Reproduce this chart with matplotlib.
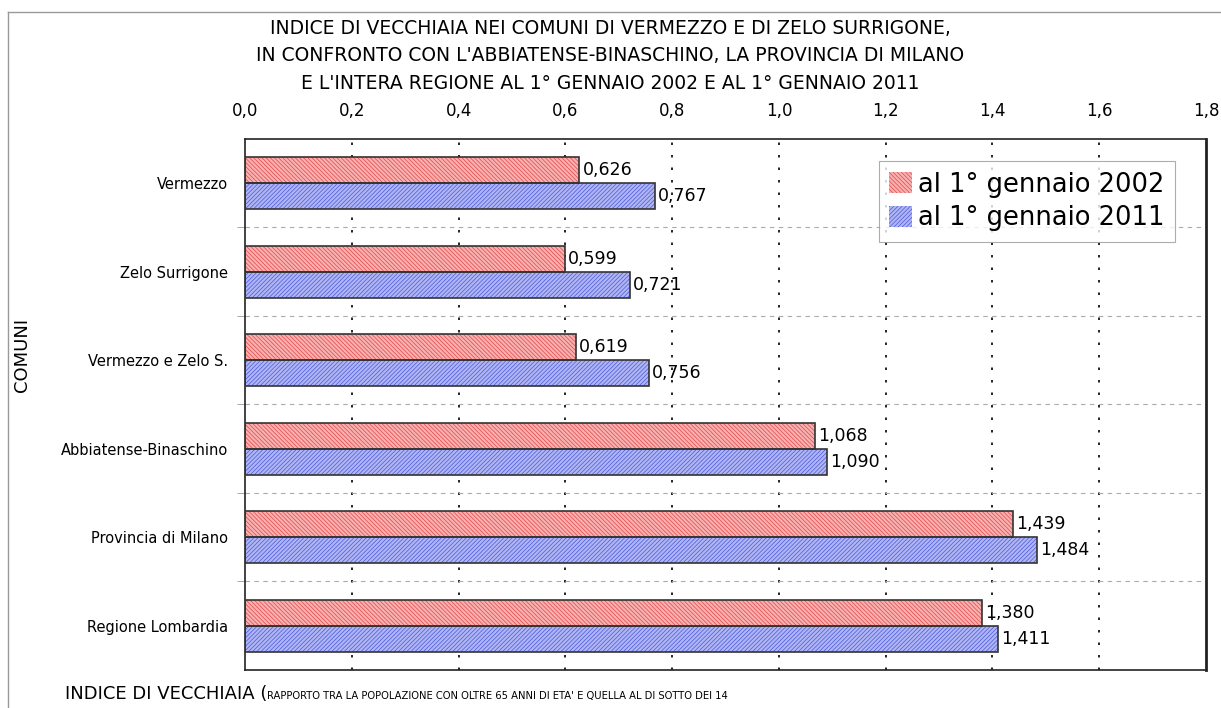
import matplotlib.pyplot as plt
import numpy as np
from matplotlib.lines import Line2D
from matplotlib.patches import Patch

comuni = ["Vermezzo", "Zelo Surrigone", "Vermezzo e Zelo S.",
          "Abbiatense-Binaschino", "Provincia di Milano", "Regione Lombardia"]
val_2002 = [0.626, 0.599, 0.619, 1.068, 1.439, 1.380]
val_2011 = [0.767, 0.721, 0.756, 1.090, 1.484, 1.411]
serie = ["al 1° gennaio 2002", "al 1° gennaio 2011"]
xticks = [0.0, 0.2, 0.4, 0.6, 0.8, 1.0, 1.2, 1.4, 1.6, 1.8]

plt.rcParams["hatch.linewidth"] = 0.5

fig = plt.figure(figsize=(12.21, 7.08), dpi=100)
ax = fig.add_axes([0.2007, 0.0537, 0.787, 0.75])

y = np.arange(len(comuni))
h = 0.294

# fill + coloured hatch first, then the dark outline on top
styles = [("#f8b0b0", "#e04848", "\\\\\\\\\\\\\\\\"), ("#b0b6f4", "#4a58d8", "////////")]
for vals, off, (fc, hc, hatch) in zip([val_2002, val_2011], [-h / 2, h / 2], styles):
    ax.barh(y + off, vals, height=h, color=fc, edgecolor=hc, hatch=hatch,
            linewidth=0, zorder=2)
    ax.barh(y + off, vals, height=h, fill=False, edgecolor="#333333",
            linewidth=1.2, zorder=3)
    for yy, v in zip(y + off, vals):
        ax.text(v + 0.006, yy, f"{v:.3f}".replace(".", ","), va="center",
                ha="left", fontsize=12.5, zorder=4)

ax.set_xlim(0, 1.8)
ax.set_ylim(len(comuni) - 0.5, -0.5)

ax.xaxis.tick_top()
ax.set_xticks(xticks)
ax.set_xticklabels([f"{t:.1f}".replace(".", ",") for t in xticks], fontsize=12)
ax.tick_params(axis="x", length=0, pad=14)
ax.set_yticks(y)
ax.set_yticklabels(comuni, fontsize=10.5)
ax.tick_params(axis="y", length=0, pad=12)
ax.set_yticks(np.arange(0.5, len(comuni) - 0.5, 1), minor=True)
ax.tick_params(axis="y", which="minor", length=6, color="#999999")

for t in xticks[1:-1]:
    ax.axvline(t, color="black", linestyle=(0, (1.5, 6)), linewidth=1.2, zorder=1)
for b in np.arange(0.5, len(comuni) - 0.5, 1):
    ax.axhline(b, color="#aaaaaa", linestyle=(0, (4, 4)), linewidth=0.8, zorder=1)

for s in ax.spines.values():
    s.set_color("#222222")
    s.set_linewidth(1.2)
ax.spines["right"].set_linewidth(2)

handles = [Patch(facecolor=styles[i][0], edgecolor=styles[i][1], hatch=styles[i][2],
                 linewidth=0) for i in range(2)]
leg = ax.legend(handles, serie, loc="upper right", bbox_to_anchor=(0.968, 0.958),
                borderaxespad=0, fontsize=18.5, frameon=True, fancybox=False,
                handlelength=0.9, handleheight=0.9, handletextpad=0.25,
                borderpad=0.4, labelspacing=0.3)
leg.get_frame().set_edgecolor("#999999")
leg.get_frame().set_linewidth(0.8)

fig.text(0.018, 0.4986, "COMUNI", rotation=90, ha="center", va="center", fontsize=13)

fig.text(0.5, 0.973, "INDICE DI VECCHIAIA NEI COMUNI DI VERMEZZO E DI ZELO SURRIGONE,\n"
         "IN CONFRONTO CON L'ABBIATENSE-BINASCHINO, LA PROVINCIA DI MILANO\n"
         "E L'INTERA REGIONE AL 1° GENNAIO 2002 E AL 1° GENNAIO 2011",
         ha="center", va="top", fontsize=13.5, linespacing=1.55)

t1 = fig.text(0.053, 0.013, "INDICE DI VECCHIAIA (", fontsize=13, va="baseline")
fig.canvas.draw()
bb = t1.get_window_extent()
fig.text(bb.x1 / fig.bbox.width, 0.013,
         "RAPPORTO TRA LA POPOLAZIONE CON OLTRE 65 ANNI DI ETA' E QUELLA AL DI SOTTO DEI 14",
         fontsize=7.2, va="baseline")

# grey frame of the sheet
fig.add_artist(Line2D([0.0066, 0.0066], [0, 0.983], color="#999999", linewidth=1))
fig.add_artist(Line2D([0.0066, 1], [0.983, 0.983], color="#999999", linewidth=1))

fig.savefig("out.png", dpi=100)
